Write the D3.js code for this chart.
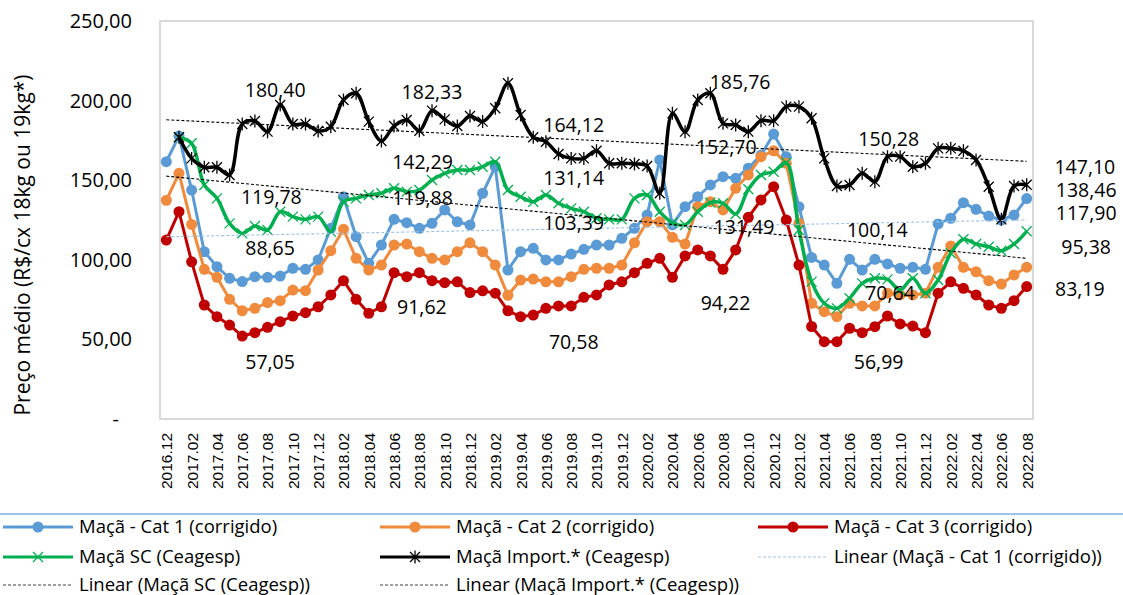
<!DOCTYPE html>
<html lang="pt">
<head>
<meta charset="utf-8">
<title>Preço médio maçã</title>
<script src="https://d3js.org/d3.v7.min.js"></script>
<style>
  body { margin: 0; background: #fff; }
  svg text { font-family: "Open Sans", "Liberation Sans", sans-serif; fill: #000; }
</style>
</head>
<body>
<svg id="chart" width="1123" height="595"></svg>
<script>
// categories (year.month)
var months = [
  "2016.12",
  "2017.01","2017.02","2017.03","2017.04","2017.05","2017.06","2017.07","2017.08","2017.09","2017.10","2017.11","2017.12",
  "2018.01","2018.02","2018.03","2018.04","2018.05","2018.06","2018.07","2018.08","2018.09","2018.10","2018.11","2018.12",
  "2019.01","2019.02","2019.03","2019.04","2019.05","2019.06","2019.07","2019.08","2019.09","2019.10","2019.11","2019.12",
  "2020.01","2020.02","2020.03","2020.04","2020.05","2020.06","2020.07","2020.08","2020.09","2020.10","2020.11","2020.12",
  "2021.01","2021.02","2021.03","2021.04","2021.05","2021.06","2021.07","2021.08","2021.09","2021.10","2021.11","2021.12",
  "2022.01","2022.02","2022.03","2022.04","2022.05","2022.06","2022.07","2022.08"
];

// series values (R$/cx)
var cat1 = [161.6,
  177.8,143.8,105.1,95.7,88.4,86.3,89.4,89.0,89.8,94.7,94.0,99.9,
  119.8,139.6,114.5,97.8,109.3,125.4,123.3,119.8,122.9,131.3,123.9,121.9,
  141.8,158.5,93.6,105.1,107.2,99.9,99.9,103.6,106.6,109.3,109.3,113.5,
  119.8,128.1,162.7,122.0,133.4,139.6,147.0,152.2,151.2,157.5,165.8,179.0,
  164.8,133.4,101.5,96.7,85.2,100.3,93.6,100.3,97.4,94.7,95.3,94.0,
  122.5,126.1,135.9,131.7,127.5,125.0,128.1,138.46];

var cat2 = [137.4,
  154.3,122.2,94.0,89.0,75.2,68.0,69.5,73.1,74.3,81.0,80.6,93.6,
  105.7,119.2,100.9,93.6,96.7,109.3,109.9,105.1,100.9,99.9,105.1,110.7,
  105.1,96.7,77.7,87.3,87.9,86.2,86.2,89.4,94.0,94.7,94.7,96.7,
  110.7,123.9,123.9,114.1,109.9,133.4,136.5,131.3,144.9,153.3,164.8,168.5,
  160.6,122.9,72.7,67.4,64.3,72.7,71.0,71.0,79.0,77.9,77.9,79.0,
  95.3,108.7,95.3,92.5,86.9,84.8,90.5,95.38];

var cat3 = [112.4,
  130.2,98.7,71.6,64.3,59.0,52.1,54.2,57.6,61.1,64.7,66.8,70.5,
  77.9,86.9,75.2,66.4,70.5,91.9,89.4,91.9,86.9,85.6,86.2,79.4,
  80.5,79.0,68.0,64.3,65.3,69.5,71.0,71.0,76.4,77.9,84.2,86.2,
  91.9,97.8,100.9,89.0,102.4,106.2,102.4,94.0,106.2,126.7,137.6,145.9,
  125.0,96.7,58.1,48.6,48.6,57.0,54.2,58.0,64.7,59.7,58.4,54.2,
  79.0,86.2,82.1,77.9,71.6,69.5,74.3,83.19];

var sc = [null,
  177.0,173.2,147.0,138.6,122.9,116.6,121.2,118.7,130.2,127.1,125.4,127.1,
  117.7,136.5,138.6,140.7,141.8,144.9,142.8,143.8,150.1,154.3,156.4,156.4,
  158.5,161.6,143.8,139.6,136.5,140.7,135.5,132.3,130.2,126.1,125.4,125.4,
  138.6,140.7,130.2,123.3,121.9,130.2,135.9,135.5,128.8,144.3,153.3,155.3,
  161.0,118.7,86.3,72.7,69.5,75.8,85.2,88.4,87.7,81.0,88.4,79.0,
  87.3,104.1,112.9,109.9,108.2,105.7,109.9,117.90];

var imp = [null,
  177.0,163.7,158.1,158.1,153.3,185.3,187.2,180.5,197.2,185.3,185.3,180.9,
  183.6,200.4,204.6,186.8,174.6,184.0,187.8,181.1,193.7,188.2,184.0,190.3,
  186.8,195.2,210.9,191.0,177.0,174.2,166.5,163.7,163.7,168.5,160.6,160.6,
  160.2,158.9,141.8,192.0,180.5,200.4,204.6,185.7,184.7,180.5,187.4,187.4,
  196.2,196.2,188.9,163.7,146.4,147.0,154.3,149.1,164.8,164.8,158.5,160.6,
  170.0,170.0,168.5,162.7,145.9,125.4,146.4,147.10];

var yTicks = [0, 50, 100, 150, 200, 250];

// text labels placed on the chart: text, category index, value height
var labelText = ["180,40","119,78","88,65","57,05",
                 "182,33","142,29","119,88","91,62",
                 "164,12","131,14","103,39","70,58",
                 "185,76","152,70","131,49","94,22",
                 "150,28","100,14","70,64","56,99",
                 "147,10","138,46","117,90","95,38","83,19"];
var labelAt = [8.6,8.3,8.2,8.2,
               21.0,20.25,20.25,20.2,
               32.2,32.2,32.2,32.2,
               45.35,44.25,45.65,44.2,
               57.1,56.2,57.2,56.3,
               72.6,72.7,72.7,72.7,72.2];
var labelVal = [206.7,139.4,107.4,35.8,
                205.4,161.4,138.8,70.4,
                184.7,151.4,123.1,48.4,
                211.7,170.9,120.6,72.9,
                175.9,118.7,79.1,35.8,
                157.9,143.8,129.4,108.0,81.7];

var legendNames = ["Maçã - Cat 1 (corrigido)", "Maçã - Cat 2 (corrigido)", "Maçã - Cat 3 (corrigido)",
                   "Maçã SC (Ceagesp)", "Maçã Import.* (Ceagesp)", "Linear (Maçã - Cat 1 (corrigido))",
                   "Linear (Maçã SC (Ceagesp))", "Linear (Maçã Import.* (Ceagesp))"];

var svg = d3.select("#chart");
var plotL = 160, plotR = 1033, plotT = 21, plotB = 419;

var x = d3.scalePoint().domain(months).range([plotL, plotR]).padding(0.5);
var xi = d3.scaleLinear().domain([0, months.length - 1]).range([x(months[0]), x(months[months.length - 1])]);
var y = d3.scaleLinear().domain([0, 250]).range([plotB, plotT]);

var pt = d3.formatLocale({decimal: ",", thousands: ".", grouping: [3], currency: ["R$", ""]});
var fmt = pt.format(",.2f");

// plot border
svg.append("rect")
    .attr("x", plotL).attr("y", plotT)
    .attr("width", plotR - plotL).attr("height", plotB - plotT)
    .attr("fill", "none").attr("stroke", "#d9d9d9").attr("stroke-width", 2);

// y axis labels
var yAxis = svg.append("g")
    .attr("transform", "translate(132,0)")
    .call(d3.axisLeft(y).tickValues(yTicks).tickSize(0).tickPadding(0)
        .tickFormat(function (d) { return d === 0 ? "-" : fmt(d); }));
yAxis.select(".domain").remove();
yAxis.selectAll("text")
    .style("font-size", "20px")
    .attr("dx", function (d) { return d === 0 ? -13 : 0; });

// x axis labels
var xAxis = svg.append("g")
    .attr("transform", "translate(0," + plotB + ")")
    .call(d3.axisBottom(x).tickValues(months.filter(function (d, i) { return i % 2 === 0; })).tickSize(0));
xAxis.select(".domain").remove();
xAxis.selectAll("text")
    .style("font-family", "'Liberation Sans', Arial, sans-serif")
    .style("font-size", "15.5px")
    .attr("text-anchor", "end")
    .attr("transform", "rotate(-90)")
    .attr("x", -14)
    .attr("y", 0)
    .attr("dy", "0.35em");

// y axis title
svg.append("text")
    .attr("transform", "translate(23,245) rotate(-90)")
    .attr("text-anchor", "middle")
    .attr("dy", "0.35em")
    .style("font-size", "21px")
    .text("Preço médio (R$/cx 18kg ou 19kg*)");

function seriesPoints(vals) {
    return vals.map(function (v, i) { return {i: i, v: v}; }).filter(function (d) { return d.v != null; });
}

// least squares line, as the Excel linear trendline
function trend(vals) {
    var p = seriesPoints(vals);
    var mx = d3.mean(p, function (d) { return d.i; });
    var my = d3.mean(p, function (d) { return d.v; });
    var num = d3.sum(p, function (d) { return (d.i - mx) * (d.v - my); });
    var den = d3.sum(p, function (d) { return (d.i - mx) * (d.i - mx); });
    var m = num / den, b = my - m * mx;
    return [{i: 0, v: b}, {i: months.length - 1, v: b + m * (months.length - 1)}];
}

var line = d3.line().x(function (d) { return xi(d.i); }).y(function (d) { return y(d.v); });
var smooth = d3.line().curve(d3.curveCatmullRom.alpha(0.5))
    .x(function (d) { return xi(d.i); }).y(function (d) { return y(d.v); });

var xPath = "M-5,-5L5,5M-5,5L5,-5";
var starPath = "M-5,-5L5,5M-5,5L5,-5M0,-6.5L0,6.5";

var plot = svg.append("g");

// dot series
[[cat1, "#5b9bd5"], [cat2, "#f08a3c"], [cat3, "#c00000"]].forEach(function (s) {
    var p = seriesPoints(s[0]);
    plot.append("path").datum(p).attr("d", line)
        .attr("fill", "none").attr("stroke", s[1]).attr("stroke-width", 3).attr("stroke-linejoin", "round");
    plot.selectAll(null).data(p).enter().append("circle")
        .attr("cx", function (d) { return xi(d.i); })
        .attr("cy", function (d) { return y(d.v); })
        .attr("r", 5.5)
        .attr("fill", s[1]);
});

// Ceagesp series
[[sc, "#00b050", xPath, 3.5], [imp, "#000000", starPath, 3.5]].forEach(function (s) {
    var p = seriesPoints(s[0]);
    plot.append("path").datum(p).attr("d", smooth)
        .attr("fill", "none").attr("stroke", s[1]).attr("stroke-width", s[3]).attr("stroke-linejoin", "round");
    plot.selectAll(null).data(p).enter().append("path")
        .attr("transform", function (d) { return "translate(" + xi(d.i) + "," + y(d.v) + ")"; })
        .attr("d", s[2])
        .attr("fill", "none").attr("stroke", s[1]).attr("stroke-width", 1.3);
});

// trendlines
[[cat1, "#9dc3e6"], [sc, "#000000"], [imp, "#000000"]].forEach(function (s) {
    plot.append("path").datum(trend(s[0])).attr("d", line)
        .attr("fill", "none").attr("stroke", s[1]).attr("stroke-width", 1.1)
        .attr("stroke-dasharray", "3,2");
});

// value labels
svg.append("g").selectAll("text")
    .data(labelText)
    .enter().append("text")
    .attr("x", function (d, i) { return xi(labelAt[i]); })
    .attr("y", function (d, i) { return y(labelVal[i]); })
    .attr("text-anchor", "middle")
    .attr("dy", "0.35em")
    .style("font-size", "19.5px")
    .text(function (d) { return d; });

// legend
svg.append("line")
    .attr("x1", 0).attr("x2", 1123).attr("y1", 514).attr("y2", 514)
    .attr("stroke", "#9dc3e6").attr("stroke-width", 2);

var legendStyle = [
    {c: "#5b9bd5", w: 3, m: "circle"}, {c: "#f08a3c", w: 3, m: "circle"}, {c: "#c00000", w: 3, m: "circle"},
    {c: "#00b050", w: 3, m: xPath}, {c: "#000000", w: 3, m: starPath}, {c: "#9dc3e6", w: 1.1, dash: "3,2"},
    {c: "#404040", w: 1.1, dash: "3,2"}, {c: "#404040", w: 1.1, dash: "3,2"}
];
var colX = [3, 380, 758], rowY = [527, 557, 585];

var leg = svg.append("g").selectAll("g")
    .data(legendNames)
    .enter().append("g")
    .attr("transform", function (d, i) { return "translate(" + colX[i % 3] + "," + rowY[Math.floor(i / 3)] + ")"; });

leg.append("line")
    .attr("x1", 0).attr("x2", 70)
    .attr("stroke", function (d, i) { return legendStyle[i].c; })
    .attr("stroke-width", function (d, i) { return legendStyle[i].w; })
    .attr("stroke-dasharray", function (d, i) { return legendStyle[i].dash || null; });

leg.each(function (d, i) {
    var st = legendStyle[i], g = d3.select(this);
    if (st.m === "circle") {
        g.append("circle").attr("cx", 35).attr("r", 5.5).attr("fill", st.c);
    } else if (st.m) {
        g.append("path").attr("transform", "translate(35,0)").attr("d", st.m)
            .attr("fill", "none").attr("stroke", st.c).attr("stroke-width", 1.3);
    }
});

leg.append("text")
    .attr("x", 76)
    .attr("dy", "0.35em")
    .style("font-size", "18.5px")
    .text(function (d) { return d; });
</script>
</body>
</html>
